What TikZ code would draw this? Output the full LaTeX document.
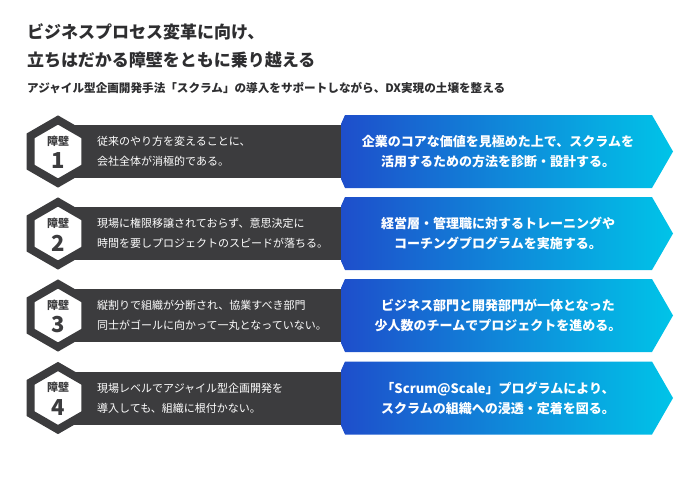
\documentclass[tikz,border=0pt]{standalone}
\usepackage{fontspec}
\setmainfont{Noto Sans CJK JP}
\usetikzlibrary{positioning}

\definecolor{bargray}{HTML}{3C3C3E}
\definecolor{titlegray}{HTML}{2E2E30}
\definecolor{deepblue}{HTML}{1E4ECB}
\definecolor{skycyan}{HTML}{00C4E8}

\begin{document}
\begin{tikzpicture}[x=1pt, y=-1pt]

		% Define custom styles
		\tikzstyle{headline} = [anchor=west, inner sep=0pt, align=left, text=titlegray,
		font=\fontsize{17}{28}\selectfont\bfseries]
		\tikzstyle{subline} = [anchor=west, inner sep=0pt, text=titlegray,
		font=\fontsize{11.6}{14}\selectfont\bfseries]
		\tikzstyle{darkbar} = [rectangle, fill=bargray, minimum width=284pt, minimum height=53pt, inner sep=0pt]
		\tikzstyle{hexframe} = [draw=bargray, fill=white, line width=8pt, line join=miter]
		\tikzstyle{hexlabel} = [inner sep=0pt, text=bargray, font=\fontsize{11}{12}\selectfont\bfseries]
		\tikzstyle{hexnum} = [inner sep=0pt, text=bargray, font=\fontsize{22}{24}\selectfont\bfseries]
		\tikzstyle{problem} = [anchor=west, inner sep=0pt, align=left, text=white,
		font=\fontsize{11}{20}\selectfont]
		\tikzstyle{solution} = [inner sep=0pt, align=center, text=white,
		font=\fontsize{13}{20}\selectfont\bfseries]
		\tikzstyle{bluearrow} = [left color=deepblue, right color=skycyan, draw=none]

		\useasboundingbox (0,0) rectangle (700,476);

		% Title
		\node[headline] (title) at (27,46) {ビジネスプロセス変革に向け、\\立ちはだかる障壁をともに乗り越える};
		\node[subline] (subtitle) at (27,88) {アジャイル型企画開発手法「スクラム」の導入をサポートしながら、DX実現の土壌を整える};

		% Barrier 1
		\node[darkbar] (bar1) at (200,151.5) {};
		\coordinate (hex1) at (58,151.5);
		\draw[hexframe] (hex1) +(90:31.5) -- +(150:31.5) -- +(210:31.5) -- +(270:31.5) -- +(330:31.5) -- +(30:31.5) -- cycle;
		\node[hexlabel] (wall1) at (58,141) {障壁};
		\node[hexnum] (num1) at (58,161) {1};
		\node[problem] (prob1) at (97,151.5) {従来のやり方を変えることに、\\会社全体が消極的である。};
		\shade[bluearrow] (345,115) -- (652,115) -- (673,151.5) -- (652,188) -- (345,188) -- (341,179) -- (341,124) -- cycle;
		\node[solution] (sol1) at (498,151.5) {企業のコアな価値を見極めた上で、スクラムを\\活用するための方法を診断・設計する。};

		% Barrier 2
		\node[darkbar] (bar2) at (200,233.5) {};
		\coordinate (hex2) at (58,233.5);
		\draw[hexframe] (hex2) +(90:31.5) -- +(150:31.5) -- +(210:31.5) -- +(270:31.5) -- +(330:31.5) -- +(30:31.5) -- cycle;
		\node[hexlabel] (wall2) at (58,223) {障壁};
		\node[hexnum] (num2) at (58,243) {2};
		\node[problem] (prob2) at (97,233.5) {現場に権限移譲されておらず、意思決定に\\時間を要しプロジェクトのスピードが落ちる。};
		\shade[bluearrow] (345,197) -- (652,197) -- (673,233.5) -- (652,270) -- (345,270) -- (341,261) -- (341,206) -- cycle;
		\node[solution] (sol2) at (498,233.5) {経営層・管理職に対するトレーニングや\\コーチングプログラムを実施する。};

		% Barrier 3
		\node[darkbar] (bar3) at (200,315.5) {};
		\coordinate (hex3) at (58,315.5);
		\draw[hexframe] (hex3) +(90:31.5) -- +(150:31.5) -- +(210:31.5) -- +(270:31.5) -- +(330:31.5) -- +(30:31.5) -- cycle;
		\node[hexlabel] (wall3) at (58,305) {障壁};
		\node[hexnum] (num3) at (58,325) {3};
		\node[problem] (prob3) at (97,315.5) {縦割りで組織が分断され、協業すべき部門\\同士がゴールに向かって一丸となっていない。};
		\shade[bluearrow] (345,279) -- (652,279) -- (673,315.5) -- (652,352) -- (345,352) -- (341,343) -- (341,288) -- cycle;
		\node[solution] (sol3) at (498,315.5) {ビジネス部門と開発部門が一体となった\\少人数のチームでプロジェクトを進める。};

		% Barrier 4
		\node[darkbar] (bar4) at (200,398) {};
		\coordinate (hex4) at (58,398);
		\draw[hexframe] (hex4) +(90:31.5) -- +(150:31.5) -- +(210:31.5) -- +(270:31.5) -- +(330:31.5) -- +(30:31.5) -- cycle;
		\node[hexlabel] (wall4) at (58,387.5) {障壁};
		\node[hexnum] (num4) at (58,407.5) {4};
		\node[problem] (prob4) at (97,398) {現場レベルでアジャイル型企画開発を\\導入しても、組織に根付かない。};
		\shade[bluearrow] (345,361.5) -- (652,361.5) -- (673,398) -- (652,434.5) -- (345,434.5) -- (341,425.5) -- (341,370.5) -- cycle;
		\node[solution] (sol4) at (498,398) {「Scrum@Scale」プログラムにより、\\スクラムの組織への浸透・定着を図る。};

	\end{tikzpicture}
\end{document}
